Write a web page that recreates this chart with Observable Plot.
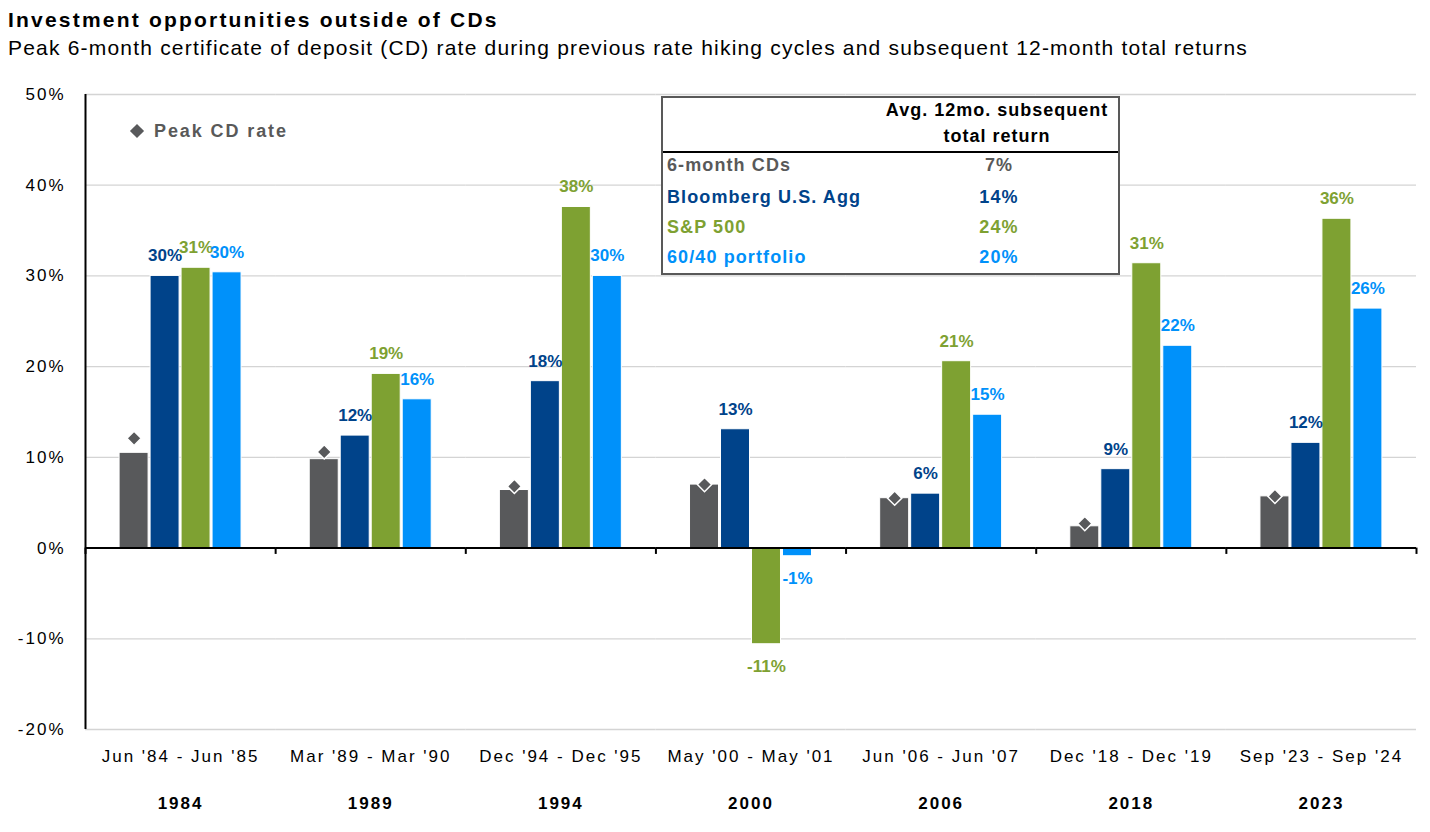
<!DOCTYPE html>
<html>
<head>
<meta charset="utf-8">
<script src="https://cdn.jsdelivr.net/npm/d3@7"></script>
<script src="https://cdn.jsdelivr.net/npm/@observablehq/plot@0.6"></script>
<style>
  body { margin: 0; background: #fff; font-family: "Liberation Sans", Arial, sans-serif; }
  #wrap { position: relative; width: 1430px; height: 832px; overflow: hidden; background: #fff; }
  #head { position: relative; height: 60px; }
  .title { position: absolute; left: 8px; top: 9px; font-size: 21px; line-height: 21px; font-weight: bold; letter-spacing: 2.2px; color: #000; white-space: nowrap; }
  .subtitle { position: absolute; left: 8px; top: 37px; font-size: 21px; line-height: 21px; letter-spacing: 1.2px; color: #000; white-space: nowrap; }
  .legend { position: absolute; left: 132px; top: 121px; height: 20px; display: flex; align-items: center; }
  .legend .sym { width: 10px; height: 10px; background: #58595b; transform: rotate(45deg); margin-right: 12px; }
  .legend .lab { font-size: 18px; font-weight: bold; color: #595959; letter-spacing: 1.9px; }
  .tbl { position: absolute; left: 661px; top: 96px; width: 459px; height: 179px; box-sizing: border-box; border: 2px solid #595959; background: #fff; }
  .tbl .hd { position: absolute; left: 0; width: 100%; font-size: 18px; line-height: 20px; font-weight: bold; color: #000; }
  .tbl .hd span { position: absolute; left: 334px; transform: translateX(-50%); white-space: nowrap; letter-spacing: 1px; }
  .tbl .rule { position: absolute; left: 0; right: 0; top: 53px; height: 2px; background: #000; }
  .tbl .row { position: absolute; left: 4px; width: 440px; height: 20px; font-size: 18px; line-height: 20px; font-weight: bold; letter-spacing: 1.1px; white-space: nowrap; }
  .tbl .row .v { position: absolute; left: 332px; transform: translateX(-50%); }
</style>
</head>
<body>
<div id="wrap">
  <div id="head">
    <div class="title">Investment opportunities outside of CDs</div>
    <div class="subtitle">Peak 6-month certificate of deposit (CD) rate during previous rate hiking cycles and subsequent 12-month total returns</div>
  </div>
  <div id="chart"></div>
  <div class="legend"><div class="sym"></div><div class="lab">Peak CD rate</div></div>
  <div class="tbl" id="tbl"></div>
</div>
<script>
// ---- Data ----
const groups = ["1984", "1989", "1994", "2000", "2006", "2018", "2023"];
const periods = ["Jun '84 - Jun '85", "Mar '89 - Mar '90", "Dec '94 - Dec '95", "May '00 - May '01", "Jun '06 - Jun '07", "Dec '18 - Dec '19", "Sep '23 - Sep '24"];
const seriesNames = ["6-month CDs", "Bloomberg U.S. Agg", "S&P 500", "60/40 portfolio"];
const cdReturn = [10.5, 9.8, 6.4, 7.0, 5.5, 2.4, 5.7];
const peakCD = [12.1, 10.6, 6.8, 7.0, 5.5, 2.7, 5.7];
const aggReturn = [30.0, 12.4, 18.4, 13.1, 6.0, 8.7, 11.6];
const spReturn = [30.9, 19.2, 37.6, -10.6, 20.6, 31.4, 36.3];
const mixReturn = [30.4, 16.4, 30.0, -0.9, 14.7, 22.3, 26.4];
const avgReturn = ["7%", "14%", "24%", "20%"];
const yTicks = [-20, -10, 0, 10, 20, 30, 40, 50];
const colors = ["#58595b", "#00438a", "#7ea132", "#0091fa"];

// ---- Table of rows ----
const seriesValues = [cdReturn, aggReturn, spReturn, mixReturn];
const rows = groups.flatMap((g, i) => seriesNames.map((s, j) => ({group: g, series: s, value: seriesValues[j][i]})));
const peakRows = groups.map((g, i) => ({group: g, series: seriesNames[0], value: peakCD[i]}));
const labelRows = rows.filter(d => d.series !== seriesNames[0]).map(d => ({...d, label: Math.round(d.value) + "%"}));

// ---- Layout ----
const W = 1430, H = 772;
const mL = 85, mR = 14, mT = 34, mB = 103;
const facetW = (W - mL - mR) / groups.length;
const padIn = 2 / 31, padOut = 1.1;
const band = d3.scaleBand().domain(seriesNames).range([0, facetW]).paddingInner(padIn).paddingOuter(padOut);
const edgeOff = band(seriesNames[0]) + band.bandwidth() / 2;

const chart = Plot.plot({
  width: W, height: H,
  marginLeft: mL, marginRight: mR, marginTop: mT, marginBottom: mB,
  style: {fontFamily: '"Liberation Sans", Arial, sans-serif', background: "white", color: "#000"},
  fx: {domain: groups, padding: 0, label: null, round: false},
  x: {domain: seriesNames, paddingInner: padIn, paddingOuter: padOut, axis: null, round: false},
  y: {domain: [-20, 50], axis: null},
  color: {domain: seriesNames, range: colors},
  marks: [
    Plot.gridY(yTicks, {stroke: "#d4d4d4", strokeOpacity: 1, strokeWidth: 1.3}),
    Plot.barY(rows, {fx: "group", x: "series", y: "value", fill: "series", stroke: "white", strokeWidth: 1}),
    Plot.ruleY([0], {stroke: "#000", strokeWidth: 2}),
    Plot.ruleX([groups[0]], {fx: d => d, x: () => seriesNames[0], dx: -edgeOff, y1: -20, y2: 50, stroke: "#000", strokeWidth: 2}),
    Plot.ruleX(groups, {fx: d => d, x: () => seriesNames[0], dx: -edgeOff, y1: 0, y2: -0.7, stroke: "#000", strokeWidth: 2}),
    Plot.ruleX([groups[groups.length - 1]], {fx: d => d, x: () => seriesNames[3], dx: edgeOff, y1: 0, y2: -0.7, stroke: "#000", strokeWidth: 2}),
    Plot.dot(peakRows, {fx: "group", x: "series", y: "value", symbol: "diamond2", r: 6.4, fill: "#58595b", stroke: "white", strokeWidth: 1.5}),
    Plot.text(labelRows.filter(d => d.value >= 0), {fx: "group", x: "series", y: "value", text: "label", fill: "series", dy: -20, fontSize: 17, fontWeight: "bold"}),
    Plot.text(labelRows.filter(d => d.value < 0), {fx: "group", x: "series", y: "value", text: "label", fill: "series", dy: 22, fontSize: 17, fontWeight: "bold"}),
    Plot.axisY(yTicks, {tickSize: 0, tickPadding: 20, tickFormat: d => d + "%", fontSize: 17, label: null}),
    Plot.axisFx({anchor: "bottom", tickSize: 0, tickPadding: 20, tickFormat: g => periods[groups.indexOf(g)], fontSize: 17, label: null}),
    Plot.axisFx({anchor: "bottom", tickSize: 0, tickPadding: 67, tickFormat: g => g, fontSize: 17, fontWeight: "bold", label: null})
  ]
});
document.getElementById("chart").appendChild(chart);
chart.querySelectorAll('g[aria-label="y-axis tick label"], g[aria-label="fx-axis tick label"]').forEach(g => g.style.letterSpacing = "2px");

// ---- Summary table ----
const tbl = document.getElementById("tbl");
tbl.innerHTML =
  '<div class="hd" style="top:2px"><span>Avg. 12mo. subsequent</span></div>' +
  '<div class="hd" style="top:28px"><span>total return</span></div>' +
  '<div class="rule"></div>';
const rowCenters = [69, 101, 131, 161];
seriesNames.forEach((s, j) => {
  const r = document.createElement("div");
  r.className = "row";
  r.style.top = (rowCenters[j] - 10 - 2) + "px";
  r.style.color = j === 0 ? "#595959" : colors[j];
  r.innerHTML = '<span>' + s + '</span><span class="v">' + avgReturn[j] + '</span>';
  tbl.appendChild(r);
});
</script>
</body>
</html>
